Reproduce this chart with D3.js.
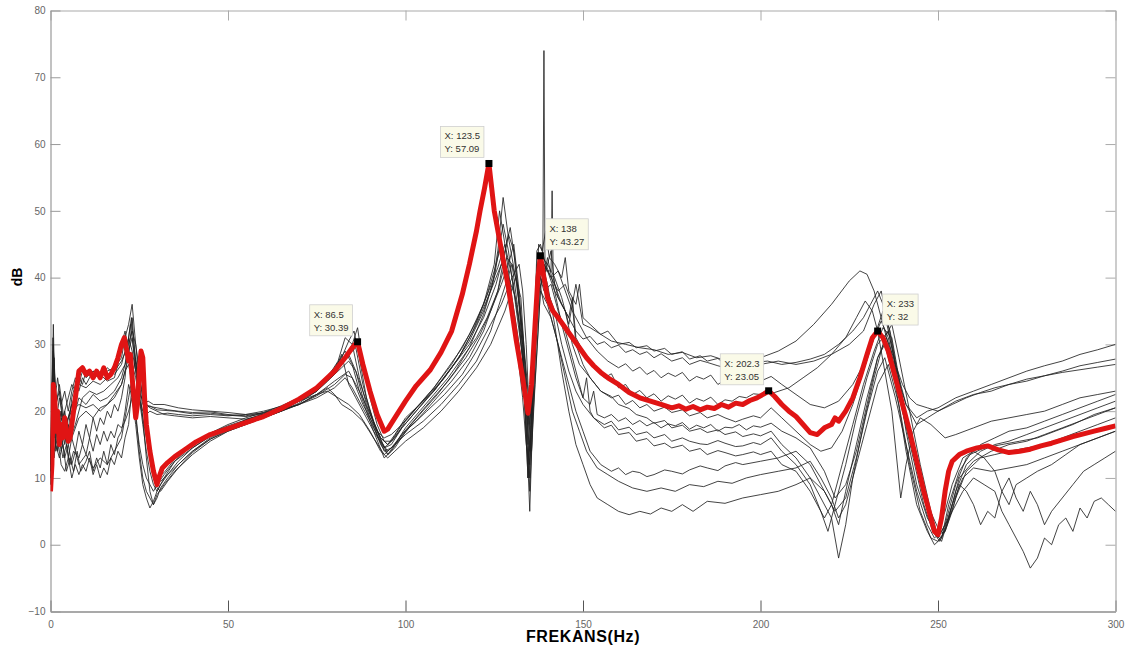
<!DOCTYPE html>
<html>
<head>
<meta charset="utf-8">
<script src="https://cdn.jsdelivr.net/npm/d3@7"></script>
<style>
body{margin:0;background:#fff;}
svg{display:block;font-family:"Liberation Sans",Arial,sans-serif;}
</style>
</head>
<body>
<svg id="chart" width="1130" height="648"></svg>
<script>
let xTicks = [0, 50, 100, 150, 200, 250, 300];
let yTicks = [-10, 0, 10, 20, 30, 40, 50, 60, 70, 80];

// measured response, highlighted
let redCurve = [[0,8],[0.4,12],[0.8,24],[1.2,22],[1.6,17],[2,20],[2.5,15],[3,18],[3.5,16],[4,19],[4.5,17],[5,15.5],[5.5,16],[6,18],[6.5,20],[7,22],[7.5,24],[8,26],[9,26.5],[10,25.5],[11,26],[12,25],[13,26],[14,25],[15,26.5],[16,25],[17,25.5],[18,26.5],[19,28],[20,30],[20.8,31],[21.5,29],[22,27.5],[22.5,28.5],[23,25],[23.5,22],[24,19],[24.5,21],[25,26],[25.5,29],[26,28],[26.5,22],[27,18],[28,14],[29,11],[30,9],[30.5,10],[31.5,11.5],[33,12.3],[35,13.2],[38,14.3],[41,15.4],[45,16.5],[50,17.4],[55,18.3],[60,19.2],[65,20.4],[70,21.8],[75,23.5],[80,26],[83,28],[85,29.5],[86.5,30.39],[88,27],[90,23],[92,19.5],[94,17],[95,17.3],[97,19],[100,21.5],[103,23.8],[107,26.2],[110,28.8],[113,32],[116,37.5],[118,42],[120,47],[121,50],[122.3,53.5],[123.5,57.09],[125,50],[127.4,43],[129,38.5],[131.2,30.6],[133,25],[134.5,19.7],[135.5,24],[136.5,33],[137.3,40],[138,43.27],[139,40],[140,37],[141.5,35],[143,34],[145,32.5],[147,31],[149,29.5],[151,28],[153,26.8],[155,25.8],[157,25],[160,24],[163,22.8],[166,22],[169,21.5],[172,21],[175,20.5],[177,20.8],[179,20.3],[181,20.7],[183,20.2],[185,20.6],[187,20.4],[189,21],[191,20.6],[193,21.2],[195,21],[197,21.6],[199,22],[201,22.6],[202.3,23.05],[204,22.2],[206,21],[208,20],[210,19.2],[212,18],[214,16.8],[216,16.5],[218,17.5],[220,18],[221,19],[222,18.5],[224,20],[226,22],[228,25],[230,28.5],[231.5,31],[233,32],[234.5,31],[236,29],[238,25],[240,21],[242,17],[244,12.5],[246,8],[248,4],[249,2],[250,1.5],[251,4],[252,8],[253,11],[254,12.5],[256,13.5],[258,14],[261,14.5],[264,14.8],[267,14.2],[270,13.8],[273,14],[276,14.3],[279,14.8],[282,15.2],[285,15.7],[288,16.2],[291,16.6],[294,17],[297,17.4],[300,17.8]];

// other measurements
let b1 = [[0,14],[0.8,30],[1.5,18],[2.5,22],[4,17],[6,21],[8,24],[10,23.5],[12,24.5],[14,24],[16,25],[18,26],[20,27.5],[22,30],[23,32],[24,30],[25,26],[26,22],[27,20.5],[28,20.8],[30,20.2],[35,20],[40,19.6],[45,19.7],[50,19.4],[55,19.2],[60,19.6],[65,20.2],[70,21],[75,22.5],[80,24.5],[84,26],[86,24],[88,22],[90,19.5],[93,16],[95,15],[97,16.5],[100,19],[105,21.5],[110,24.5],[115,28],[120,33],[124,38],[127,42],[129,40],[131,37],[133,30],[134.5,18],[135.5,25],[137,38],[139,42],[141,40],[143,38],[145,39],[147,36],[148,39],[150,33],[152,32.5],[155,31.5],[157,32],[160,30],[163,30.3],[165,29.5],[168,29.8],[170,29],[173,29.4],[175,28.5],[178,28.9],[180,27.8],[183,28.3],[185,27.5],[188,27.9],[190,27],[193,27.6],[195,27.5],[198,27.2],[200,28],[205,29],[210,30.5],[215,33],[220,36],[225,39.5],[228,41],[230,40.5],[232,38],[235,32],[238,26],[241,21],[244,19],[247,20],[250,20.5],[255,22],[260,23],[265,24],[270,25],[275,26],[280,26.8],[285,27.5],[290,28.5],[295,29.2],[300,30]];
let b2 = [[0,12],[1,28],[2,16],[3,19],[5,15],[7,18],[9,22],[11,23],[13,22.5],[15,23],[17,24],[19,25],[21,27],[22.5,33],[23.5,29],[25,24],[26,21],[27.5,21.5],[29,21],[32,21],[36,20.5],[40,20.2],[45,20],[50,19.8],[55,19.5],[60,19.7],[65,20.5],[70,21.5],[75,23.5],[80,26.5],[83,29],[85,27],[87,23],[89,20],[91,17],[94,14.5],[96,15.5],[99,18],[103,20.5],[108,23.5],[113,27],[118,31.5],[122,36],[126,41.5],[128,45],[130,40],[132,33],[134,22],[135,10],[136,28],[137.5,40],[138.7,44],[139,74],[139.3,41],[140,43],[142,38],[144,36],[146,34],[148,32],[150,30.8],[152,31.2],[154,30],[156,30.4],[158,29.5],[160,29.9],[162,28.8],[164,29.2],[166,28.5],[168,28.9],[170,28],[172,28.6],[175,27.5],[178,28],[180,27],[183,27.6],[185,27.3],[188,26.8],[190,26.5],[193,27.2],[195,27],[198,26.6],[200,27],[205,27.5],[210,27],[215,27.5],[220,28.5],[225,30],[229,32],[232,36],[234,38],[236,33],[238,27],[241,21],[244,18],[247,19],[250,20],[255,21.5],[260,22.5],[265,23],[270,24],[275,24.5],[280,25.3],[285,26],[290,26.8],[295,27.3],[300,27.8]];
let b3 = [[0,11],[0.8,33],[1.3,20],[2.5,24],[4,18],[6,20],[8,21],[10,20.5],[12,21],[14,20],[16,21],[18,22],[20,24],[22,28],[23,34],[24,27],[25,22],[26,18],[27,14],[28,11],[29,9],[30,8],[31,9],[33,10.5],[36,12],[40,14],[45,15.8],[50,17],[55,18],[60,19],[65,20],[70,21.5],[75,23],[78,25],[81,27.5],[83,31],[85,30],[87,25],[89,21],[92,17],[95,13.5],[97,14.5],[100,17],[104,19.5],[109,22.5],[114,26],[118,29.5],[122,34.5],[125,40],[127.5,48],[129,44],[131,36],[133,28],[134.5,12],[135.5,20],[137,42],[139,41],[141,41],[141.3,53],[141.6,40],[143,37],[145,35],[147,30],[149,27],[152,25],[155,23],[158,22.2],[160,21],[163,20.4],[165,19.5],[168,19],[170,18.2],[173,18.6],[175,17.5],[178,17.9],[180,17],[183,17.4],[185,16.8],[188,17.2],[190,16.5],[193,16.9],[195,16.2],[198,16.6],[200,16.3],[203,17],[206,15],[210,13],[214,10],[217,7],[220,4],[222,-2],[224,3],[226,10],[229,18],[232,25],[235,31],[237,33],[239,28],[242,20],[245,12],[248,5],[250,1],[252,3],[255,9],[258,13],[262,15],[266,16],[270,17],[275,17.5],[280,18.5],[285,19.5],[290,20.5],[295,21.5],[300,22.5]];
let b4 = [[0,10],[1,25],[2,14],[3,17],[4,13],[5,15],[6,12],[7,14],[8,12],[10,13.5],[12,11.5],[14,13],[16,12],[18,14],[20,16],[21,19],[22,22],[23,25],[24,28],[25,24],[26,19],[27,13],[28,8],[29,6],[30,7],[31,8.5],[33,10],[36,12],[40,14],[45,16],[50,17.3],[55,18.4],[60,19.3],[65,20.4],[70,21.8],[75,23.5],[78,24.8],[80,26],[82,28.5],[84,24],[86,22],[88,20],[91,17],[94,13],[96,14],[99,16.5],[103,18.5],[108,21.5],[113,24.5],[118,28],[122,32],[126,38],[129,46.5],[130.5,44],[132,36],[133.5,25],[135,5],[136,22],[137.5,41],[139,38],[141,39],[143,35],[145,32],[147,28],[149,24],[150,22],[151,25],[152,20],[153,19],[156,17.5],[158,17.9],[160,16.5],[163,16.8],[165,15.5],[168,15.9],[170,14.8],[173,15.2],[175,14.5],[178,14.9],[180,14],[183,14.4],[185,13.5],[188,14.1],[190,13.8],[193,13.3],[195,13.5],[198,13.9],[200,13.5],[203,14],[206,12],[210,11],[214,8],[218,4],[220,6],[223,12],[226,18],[229,24],[232,29],[234.5,32.5],[237,31],[240,22],[243,14],[246,7],[249,2],[251,0.5],[253,4],[256,10],[260,12.5],[265,14],[270,15],[275,15.5],[280,16.5],[285,17.5],[290,18.5],[295,19.5],[300,20.5]];
let b5 = [[0,9],[0.5,20],[1,14],[2,16],[3,12],[4,11],[5,13],[6,10],[7,12],[8,10.5],[9,12],[10,11],[11,13],[12,10.5],[13,12],[14,10],[15,11.5],[16,10.5],[17,13],[18,12],[19,14],[20,13],[21,16],[22,18],[23,24],[24,20],[25,14],[26,10],[27,8],[28,7],[29,6],[30,7.5],[32,9],[35,11],[40,13.5],[45,15.5],[50,17],[55,18],[60,19],[65,20],[70,21],[75,22.5],[78,23.5],[80,22.5],[82,21],[85,20],[88,18.5],[91,16],[94,13.5],[97,15],[100,16.5],[105,18.5],[110,21],[115,24],[120,27.5],[124,32],[127,37],[130,42],[131.5,39],[133,30],[134.5,15],[136,25],[138,40],[140,38],[142,35],[144,30],[146,26],[148,23],[150,21],[153,19],[156,18],[158,18.5],[160,17.2],[163,17.6],[165,16.5],[168,16.9],[170,16],[173,16.5],[175,15.5],[178,16],[180,15.5],[183,15.1],[185,15],[188,15.6],[190,15.2],[193,14.7],[195,14.8],[198,15.3],[200,15],[203,16],[206,14],[210,12],[214,9],[217,5],[219,2],[221,6],[224,12],[227,19],[230,25],[233,30],[236,32],[238,27],[241,17],[244,9],[247,4],[250,1.5],[252,2],[255,7],[258,11],[262,13],[266,13.5],[270,14],[275,14.5],[280,15],[285,16],[290,17],[295,18],[300,19]];
let b6 = [[0,12],[0.5,22],[1.5,15],[2.5,13],[3.5,15],[4.5,11],[5.5,13],[6.5,11],[7.5,14],[8.5,11],[10,12.5],[11,14],[12,11],[13,13],[14,11.5],[15,14],[16,12],[17,15],[18,13.5],[19,16],[20,17],[21,20],[22,24],[23,22],[24,18],[25,13],[26,9],[27,7],[28,5.5],[29,6.5],[30,8],[32,10],[35,12.5],[40,14.5],[45,16.2],[50,17.5],[55,18.7],[60,19.6],[65,20.5],[70,21.5],[75,22.5],[78,23],[81,22],[84,21],[87,19.5],[90,17],[93,14],[95,13],[97,14],[100,15.5],[105,17.5],[110,20],[115,23],[120,26.5],[124,30],[128,35],[131,40],[132.5,37],[134,24],[135,8],[136,20],[138,38],[140,36],[142,32],[144,28],[146,24],[148,20],[150,17],[152,14],[155,12],[158,11],[160,11.5],[162,10.5],[164,11],[166,10.8],[168,10.2],[170,10.5],[173,11.2],[175,11],[178,10.6],[180,11.2],[183,11.8],[185,11.5],[188,11.1],[190,11.8],[193,12.3],[195,12],[200,12.5],[205,13],[210,14],[214,12],[217,9],[220,6],[222,3],[224,8],[227,15],[230,22],[233,28],[235,30],[238,24],[241,14],[244,6],[247,2],[249,0],[251,1],[254,6],[257,10],[260,11.5],[265,11],[270,11.5],[275,12],[280,13],[285,14],[290,15],[295,16],[300,17]];
let b7 = [[0,13],[1,27],[2,17],[3,20],[4,16],[5,19],[6,21],[7,20],[8,22],[10,21],[12,22.5],[14,21.5],[16,22],[18,23],[20,25],[21,27],[22,29],[23,31],[24,26],[25,23],[26,21.5],[27,21],[28,20.5],[30,20],[32,19.5],[35,19.3],[40,19],[45,19.2],[50,19],[55,18.8],[60,19.5],[65,20.2],[70,21],[75,22],[80,23.5],[83,25],[85,23.5],[87,21.5],[90,18.5],[93,15.5],[95,14],[98,15.5],[101,17.5],[106,20],[111,22.5],[116,25.5],[120,29],[124,33],[127,36],[130,40],[132,42],[133,38],[134,30],[135,18],[136,30],[137,40],[138.5,42],[140,39],[142,33],[144,26],[146,20],[148,15],[150,12],[152,9],[154,7],[157,6],[160,5],[163,4.5],[166,5],[169,4.6],[172,5.5],[175,5],[178,6],[181,5],[185,6.5],[190,6.2],[195,7],[200,7.5],[205,8],[210,9],[214,10],[218,8],[221,5],[224,7],[227,13],[230,20],[233,26],[235,28],[238,22],[241,15],[244,8],[247,3],[249,1],[251,2],[254,5],[257,8],[260,10],[263,9],[266,8],[268,5],[270,3],[272,1],[274,-1],[276,-3.5],[278,-2],[280,1],[282,0],[284,3],[286,4],[288,2],[290,5.5],[292,4],[294,6.5],[296,7],[298,6],[300,5]];
let b8 = [[0,11],[0.7,24],[1.5,14],[2.5,16],[3.5,13],[4.5,15],[5.5,12],[6.5,14],[8,13],[9,15],[10,13.5],[11,16],[12,14],[13,16.5],[14,15],[15,17],[16,15.5],[17,17],[18,16],[19,18],[20,17.5],[21,18.5],[22,20],[23,22],[24,19],[25,15],[26,12],[27,10],[28,9],[29,8],[30,9],[32,10.5],[35,12.5],[40,15],[45,16.7],[50,18],[55,19],[60,19.8],[65,20.8],[70,22],[75,23.5],[79,25.5],[82,27],[84,28.5],[86,26],[88,22],[90,19],[93,15],[95,13.5],[97,15],[100,17.5],[104,20],[108,22.5],[112,25],[116,28],[120,31],[123,34],[126,38],[128.5,43],[130,42],[131.5,36],[133,28],[134.5,10],[136,24],[137.5,40],[139,36],[141,34],[143,30],[145,25],[147,20],[149,17],[151,14],[154,11.5],[157,10.5],[160,9.5],[164,8.5],[168,8],[172,8.5],[176,8],[180,9],[184,8.7],[188,9.5],[192,9.2],[196,10],[200,10.5],[205,11],[210,11.5],[214,12.5],[217,10],[220,7],[222,4],[224,6],[227,12],[230,18],[233,24],[236,27],[239,21],[242,12],[245,5],[248,1],[250,0.5],[252,2],[254,5],[256,9],[258,8],[260,6],[262,3],[264,5],[266,4],[268,8],[270,6],[272,9],[275,10],[278,11],[282,12],[286,13.5],[290,15],[295,16],[300,17]];
let b9 = [[0,9],[0.5,18],[1,22],[2,17],[3,20],[4,15],[5,18],[6,16],[8,19],[10,20],[12,19],[14,20.5],[16,21],[18,22.5],[20,24],[21,26],[22,27],[23,24],[24,22],[25,26],[26,24],[27,17],[28,13],[29,10],[30,8.5],[31,8],[33,9.5],[36,11.5],[40,13.8],[45,15.8],[50,17.2],[55,18.2],[60,19],[65,20],[70,21.2],[75,23],[78,24.5],[81,26.5],[84,28.5],[86,29.5],[88,24],[90,20],[92,17],[94,14.5],[96,15],[99,17.5],[103,20],[107,22.5],[111,25],[115,28],[119,32],[122,36],[125,42],[126.5,50],[128,45],[130,37],[132,30],[133.5,22],[134.5,10],[135.5,16],[137,38],[138.5,43],[140,42],[142,40],[144,37],[146,33],[147,36],[148,30],[150,27],[152,25],[155,23],[158,22],[160,22.4],[162,21],[164,21.6],[166,20.5],[168,21],[170,20],[173,20.6],[175,19.8],[178,20.2],[180,19.3],[183,19.8],[185,19],[188,19.5],[190,19],[193,18.4],[195,18.8],[198,19.3],[200,19],[203,20.5],[206,19],[210,17],[214,15],[217,14],[220,14.5],[223,17],[226,21],[229,26],[232,31],[234,33.5],[236,31],[238,26],[241,19],[244,12],[247,6],[249,2],[251,1],[253,6],[256,11],[259,13.5],[263,14.5],[268,15],[273,15.5],[278,16],[283,17],[288,18],[294,19.5],[300,20.5]];
let b10 = [[0,10],[0.6,21],[1.2,16],[2,19],[3,14],[4,17],[5,13],[6,16],[7,14],[8,17],[9,15],[10,18],[11,16],[12,19],[13,17],[14,19],[15,18],[16,20],[17,19],[18,21],[19,20],[20,22],[21,25],[22,31],[22.8,34],[23.5,30],[24.5,25],[25.5,28],[26.5,22],[27.5,16],[28.5,12],[29.5,10],[31,9.5],[33,10.5],[36,12.5],[40,14.5],[45,16.3],[50,17.6],[55,18.5],[60,19.2],[65,20],[70,21],[75,22.3],[80,24],[83,25.5],[85,25],[86.5,23],[88,21],[90,19],[92,17],[94,16],[96,16.5],[99,18],[103,20.5],[108,23],[113,26.5],[118,30],[122,34],[125.5,39],[128,44],[129.5,47.5],[131,42],[132.5,34],[134,25],[135,14],[136,22],[137.5,38],[139.5,41],[141,44],[142,39],[144,36],[146,34],[147,37],[148,31],[150,29],[153,27],[156,25],[158,25.6],[160,23.5],[162,24],[164,22.5],[166,23.1],[168,22],[170,22.6],[172,21.5],[174,22.3],[176,21.8],[178,22.4],[180,21.2],[182,21.9],[184,21.5],[186,22.1],[188,21],[190,21.7],[192,21.5],[194,22.2],[196,22],[198,22.6],[200,22.5],[204,22.8],[208,23.5],[212,25],[216,26.5],[220,28.5],[224,31],[227,34],[229.5,36.5],[231.5,35],[233,32],[235,26],[237,20],[239.5,7],[241,12],[243,17],[245,19],[248,18],[250,17],[252,16],[255,16.5],[260,17.5],[265,18.5],[270,19],[275,19.5],[280,20],[285,21],[290,22],[295,22.5],[300,23]];
let b11 = [[0,11],[0.8,29],[1.5,21],[2.5,23],[3.5,19],[5,22],[6,24],[7,23],[8,25],[9,24],[10,26],[12,25],[14,25.5],[16,24.5],[18,25],[19,27],[20,30],[21,32],[22,29],[23,27],[24,25],[25,22],[26,20],[27,19.5],[28,20],[30,19.5],[33,19.7],[36,19.5],[40,19.3],[45,19.5],[50,19.3],[55,19.5],[60,20],[65,20.7],[70,21.8],[75,23.5],[79,25.5],[82,28],[84,30.5],[85.5,32],[87,28],[89,22],[91,18.5],[93,16],[95,15],[97,16],[100,18.5],[104,21],[108,23.5],[112,26.5],[116,29.5],[120,33.5],[123,37.5],[125,41],[127,45],[128.5,41],[130,35],[131.5,29],[133,22],[134,15],[135,12],[136,26],[137,44],[138,45],[139.5,42],[141,40],[143,41],[145,38],[147,35],[149,33],[151,31],[154,29],[157,27.5],[160,26.5],[162,27.1],[164,26],[166,26.6],[168,25.5],[170,26.1],[172,25],[174,25.7],[176,25.2],[178,25.8],[180,24.5],[182,25.2],[184,24.8],[186,25.4],[188,24],[190,24.7],[192,24.5],[194,25.1],[196,24.2],[198,24.8],[200,24.5],[203,25.2],[206,24],[210,22.5],[214,21],[218,20.5],[222,21.5],[226,24],[229,27],[232,31],[234.5,35],[236.5,32],[238.5,26],[241,19],[244,12],[247,6],[250,2.5],[252,5],[254,9],[257,13],[260,14],[263,13],[266,11],[268,8],[270,10],[272,7],[274,5],[276,8],[278,6],[280,3],[282,5],[285,7],[288,9],[291,11],[294,12],[297,13],[300,14]];
let b12 = [[0,12],[0.5,16],[1,13],[2,18],[3,15],[4,20],[5,17],[6,22],[7,24],[8,23],[9,25],[10,24],[12,26],[14,25],[16,26.5],[18,25.5],[20,27],[21,29],[22,31],[23,29],[24,26],[25,22],[26,19],[27,16],[28,13],[29,11],[30,10],[32,10.8],[35,12.8],[40,15],[45,16.7],[50,17.8],[55,18.7],[60,19.4],[65,20.3],[70,21.5],[75,23.2],[79,25],[82,26.5],[84,27.5],[86,26],[88,23],[90,20],[92,16.5],[94,14],[96,14.5],[99,16.5],[103,19],[107,21.5],[112,24.5],[117,28],[121,31.5],[124,35],[127,39],[129,42],[130.5,45],[132,38],[133.5,28],[134.5,20],[135.5,14],[136.5,24],[138,38],[139,42],[140,41],[142,38],[144,33],[146,29],[148,25],[150,22],[152,21],[153,23],[154,19.5],[156,19],[158,19.5],[160,18.5],[162,19],[164,18],[166,18.6],[168,17.8],[170,18.3],[172,17.5],[174,18.1],[176,17.8],[178,18.3],[180,17.3],[182,17.9],[184,17.5],[186,18],[188,17],[190,17.6],[192,17.5],[194,18],[196,17.2],[198,17.8],[200,17.6],[203,18.2],[206,17],[210,16],[214,14.5],[218,11],[221,7],[224,9],[227,14],[230,21],[233,28],[235.5,31],[237.5,28],[240,20],[243,13],[246,6],[248.5,2],[250.5,0.5],[252.5,3],[255,8],[258,12],[262,14],[266,15],[270,15.5],[275,16.5],[280,17.5],[285,18.5],[290,19.5],[295,20.5],[300,21.5]];
let b13 = [[0,13],[0.7,31],[1.3,22],[2,25],[3,21],[4,23],[5,20],[6,23],[7,25],[8,24],[9,26],[10,25],[12,26],[14,25.5],[16,26],[18,26.5],[20,28],[21,31],[22,33],[23,36],[24,30],[25,25],[26,22],[27,21],[28,20.7],[30,20.5],[33,20.2],[36,20],[40,19.8],[45,19.9],[50,19.5],[55,19.3],[60,19.8],[65,20.5],[70,21.5],[75,23],[80,25.5],[83,28],[85,30],[86.5,32.5],[88,27],[90,22],[92,18],[94,15.5],[96,15.5],[99,17.5],[103,20],[108,23],[113,26.5],[118,30.5],[122,35],[124.5,39],[126,44],[127.5,52],[129,46],[131,40],[133,32],[134.5,23],[135.5,18],[136.5,30],[137.5,45],[138.5,44],[139.5,47],[140.5,43],[142,42],[144,40],[145,43],[146,38],[148,36],[149,39],[150,34],[152,33],[155,31.5],[158,30.5],[162,30],[166,29.5],[170,29.2],[174,28.5],[178,28.8],[182,28],[186,28.3],[190,27.6],[194,27.9],[198,27.3],[202,27.5],[206,27],[210,27.3],[214,27.8],[218,28.5],[222,30],[226,32],[229,34],[231,36],[233,38],[234.5,36],[236,32],[238,27],[240,24],[242,22],[244,21],[247,20.5],[250,20],[254,21],[258,22],[262,22.8],[266,23.5],[270,24],[275,24.8],[280,25.3],[285,25.8],[290,26.2],[295,26.6],[300,27]];
let blackCurves = [b1, b2, b3, b4, b5, b6, b7, b8, b9, b10, b11, b12, b13];

// data tips: [x, y] and which side the box sits on
let tipPoints = [[86.5, 30.39], [123.5, 57.09], [138, 43.27], [202.3, 23.05], [233, 32]];
let tipSide = ['left', 'left', 'right', 'left', 'right'];

let chart = d3.select('#chart');
let pLeft = 50.5, pRight = 1115.5, pTop = 10.5, pBottom = 611.5;
let x = d3.scaleLinear().domain([0, 300]).range([pLeft, pRight]);
let y = d3.scaleLinear().domain([-10, 80]).range([pBottom, pTop]);

chart.append('rect').attr('x', pLeft).attr('y', pTop).attr('width', pRight - pLeft).attr('height', pBottom - pTop).attr('fill', '#fff');

function styleAxis(g, color){
    g.select('.domain').attr('stroke', color).attr('stroke-width', 1.2);
    g.selectAll('.tick line').attr('stroke', color);
    g.selectAll('.tick text').attr('fill', '#666').style('font-size', '10px').style('font-family', '"Liberation Sans",Arial,sans-serif');
}
function drawAxes(){
    let xb = chart.append('g').attr('transform', `translate(0,${pBottom})`)
        .call(d3.axisBottom(x).tickValues(xTicks).tickSize(-11).tickSizeOuter(0).tickPadding(9));
    styleAxis(xb, '#555');
    let xt = chart.append('g').attr('transform', `translate(0,${pTop})`)
        .call(d3.axisTop(x).tickValues(xTicks).tickSize(-10).tickSizeOuter(0).tickFormat(''));
    styleAxis(xt, '#aaa');
    let yl = chart.append('g').attr('transform', `translate(${pLeft},0)`)
        .call(d3.axisLeft(y).tickValues(yTicks).tickSize(-10).tickSizeOuter(0).tickPadding(5));
    styleAxis(yl, '#999');
    let yr = chart.append('g').attr('transform', `translate(${pRight},0)`)
        .call(d3.axisRight(y).tickValues(yTicks).tickSize(-10).tickSizeOuter(0).tickFormat(''));
    styleAxis(yr, '#aaa');
}
drawAxes();

chart.append('clipPath').attr('id', 'plotclip').append('rect')
    .attr('x', pLeft).attr('y', pTop).attr('width', pRight - pLeft).attr('height', pBottom - pTop);

let line = d3.line().x(d => x(d[0])).y(d => y(d[1]));
let plot = chart.append('g').attr('clip-path', 'url(#plotclip)');
plot.selectAll('.black').data(blackCurves).join('path').classed('black', true)
    .attr('d', line).attr('fill', 'none').attr('stroke', '#222').attr('stroke-width', 0.85)
    .attr('stroke-linejoin', 'round');
plot.append('path').datum(redCurve).attr('d', line).attr('fill', 'none')
    .attr('stroke', '#e01414').attr('stroke-width', 5).attr('stroke-linejoin', 'round');

function drawTips(){
    tipPoints.forEach((d, i) => {
        let px = x(d[0]), py = y(d[1]);
        let tip = chart.append('g');
        let box = tip.append('rect');
        let t1 = tip.append('text').text(`X: ${d[0]}`);
        let t2 = tip.append('text').text(`Y: ${d[1]}`);
        tip.selectAll('text').attr('fill', '#333').style('font-size', '9.5px');
        let w = Math.max(t1.node().getComputedTextLength(), t2.node().getComputedTextLength()) + 8;
        let h = 31;
        let bx = tipSide[i] == 'left' ? px - 5 - w : px + 5;
        let by = py - 6 - h;
        box.attr('x', bx).attr('y', by).attr('width', w).attr('height', h)
            .attr('fill', '#fafae8').attr('stroke', '#cfcfcf').attr('stroke-width', 0.8);
        t1.attr('x', bx + 4).attr('y', by + 13);
        t2.attr('x', bx + 4).attr('y', by + 26);
        chart.append('rect').attr('x', px - 3.5).attr('y', py - 3.5).attr('width', 7).attr('height', 7).attr('fill', '#000');
    });
}
drawTips();

chart.append('text').text('FREKANS(Hz)').attr('x', 583).attr('y', 642)
    .attr('text-anchor', 'middle').style('font-weight', 'bold').style('font-size', '16px')
    .style('letter-spacing', '0.6px');
chart.append('text').text('dB').attr('transform', 'translate(22,277) rotate(-90)')
    .attr('text-anchor', 'middle').style('font-weight', 'bold').style('font-size', '14px');
</script>
</body>
</html>
